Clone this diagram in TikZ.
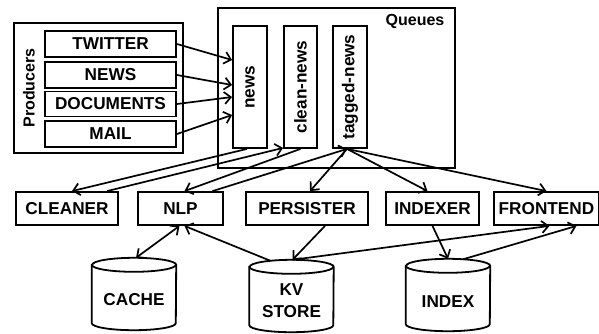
\documentclass[tikz,border=0pt]{standalone}
\usepackage{fontspec}
\setmainfont{Liberation Sans}
\usetikzlibrary{arrows.meta,calc}

% database cylinder drawn around a named (invisible) node
\newcommand\dbcylinder[1]{%
  \begin{scope}[y=1pt]
    \draw[line width=1.8pt, fill=white]
      ([yshift=-7pt]#1.north west) -- ([yshift=7pt]#1.south west)
      arc[start angle=180, end angle=360, x radius=42, y radius=7]
      -- ([yshift=-7pt]#1.north east)
      arc[start angle=0, end angle=180, x radius=42, y radius=7] -- cycle;
    \draw[line width=1.8pt] ([yshift=-7pt]#1.north west)
      arc[start angle=180, end angle=360, x radius=42, y radius=7];
  \end{scope}}

\begin{document}
\begin{tikzpicture}[x=1pt, y=-1pt,
  font=\fontsize{17.2}{20}\selectfont\bfseries,
  box/.style={draw, line width=1.8pt, inner sep=0pt},
  smalllbl/.style={font=\fontsize{16}{19}\selectfont\bfseries},
  dbnode/.style={minimum width=84pt, minimum height=72pt, inner sep=0pt},
  arr/.style={line width=1.7pt, -{Straight Barb[length=6.5pt,width=12pt]}},
  darr/.style={line width=1.7pt, {Straight Barb[length=6.5pt,width=12pt]}-{Straight Barb[length=6.5pt,width=12pt]}}]
\useasboundingbox (0,0) rectangle (599,333);

% producers
\node[box, anchor=north west, minimum width=169pt, minimum height=130pt] (prod) at (13,22) {};
\node[smalllbl, rotate=90] (prodlbl) at (29,88) {Producers};
\node[box, minimum width=131pt, minimum height=26pt] (twitter) at (110.5,44) {TWITTER};
\node[box, minimum width=131pt, minimum height=26pt] (newsp) at (110.5,75) {NEWS};
\node[box, minimum width=131pt, minimum height=25pt] (docs) at (110.5,104) {DOCUMENTS};
\node[box, minimum width=131pt, minimum height=26pt] (mail) at (110.5,134) {MAIL};

% queues
\node[box, anchor=north west, minimum width=237pt, minimum height=160pt] (queues) at (217,7) {};
\node[smalllbl] (queueslbl) at (415,21) {Queues};
\node[box, minimum width=34pt, minimum height=122pt] (qnews) at (250,87) {};
\node[box, minimum width=33pt, minimum height=122pt] (qclean) at (300.5,87) {};
\node[box, minimum width=34pt, minimum height=122pt] (qtag) at (350,87) {};
\node[rotate=90] (qnewslbl) at (qnews.center) {news};
\node[rotate=90] (qcleanlbl) at (qclean.center) {clean-news};
\node[rotate=90] (qtaglbl) at (qtag.center) {tagged-news};

% services
\node[box, minimum width=102pt, minimum height=33pt] (cleaner) at (67,208.5) {CLEANER};
\node[box, minimum width=85pt, minimum height=33pt] (nlp) at (180.5,208.5) {NLP};
\node[box, minimum width=122pt, minimum height=33pt] (persister) at (307,208.5) {PERSISTER};
\node[box, minimum width=93pt, minimum height=33pt] (indexer) at (432.5,208.5) {INDEXER};
\node[box, minimum width=105pt, minimum height=33pt] (frontend) at (546.5,208.5) {FRONTEND};

% stores
\node[dbnode] (cache) at (134,294) {};
\node[dbnode] (kv) at (291.5,296) {};
\node[dbnode] (index) at (448,295) {};
\dbcylinder{cache}
\dbcylinder{kv}
\dbcylinder{index}
\node (cachelbl) at (134,300) {CACHE};
\node[align=center, font=\fontsize{17.2}{22}\selectfont\bfseries] (kvlbl) at (291.5,301) {KV\\STORE};
\node (indexlbl) at (448,302) {INDEX};

% producers into the news queue
\draw[arr] (twitter.east) -- ($(qnews.west)+(0,-27)$);
\draw[arr] (newsp.east) -- ($(qnews.west)+(0,-2)$);
\draw[arr] (docs.east) -- ($(qnews.west)+(0,10)$);
\draw[arr] (mail.east) -- ($(qnews.west)+(0,28)$);

% queue consumers and producers
\draw[arr] ($(qnews.south)+(-3,0)$) -- ($(cleaner.north)+(5,0)$);
\draw[arr] ($(cleaner.north)+(40,0)$) -- ($(qclean.south west)+(0,-1)$);
\draw[arr] (qclean.south) -- ($(nlp.north)+(4,0)$);
\draw[arr] ($(nlp.north)+(32,0)$) -- ($(qtag.south)+(-3,0)$);
\draw[arr] ($(qtag.south)+(-3,0)$) -- ($(persister.north)+(3,0)$);
\draw[arr] ($(qtag.south)+(-3,0)$) -- ($(indexer.north)+(-5,0)$);
\draw[arr] ($(qtag.south)+(-3,0)$) -- (frontend.north);

% storage links
\draw[darr] ($(nlp.south)+(-1,0)$) -- ($(cache.north)+(2,0)$);
\draw[arr] ($(kv.north)+(-21,1)$) -- ($(nlp.south)+(4,0)$);
\draw[arr] ($(persister.south)+(18,0)$) -- ($(kv.north)+(1,0)$);
\draw[arr] ($(kv.north)+(1,0)$) -- ($(frontend.south)+(3,0)$);
\draw[arr] ($(indexer.south)$) -- (index.north);
\draw[arr] ($(index.north)+(15,0.5)$) -- ($(frontend.south)+(30,0)$);
\end{tikzpicture}
\end{document}
